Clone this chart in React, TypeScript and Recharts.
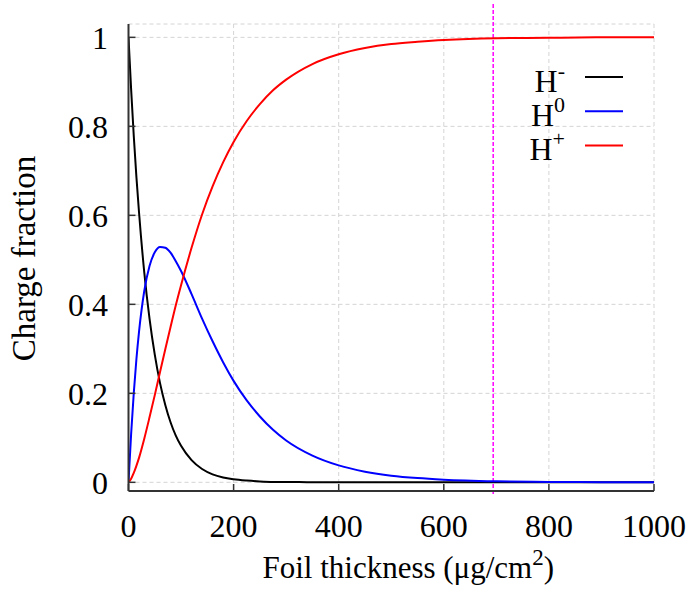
import React from "react";
import {
  LineChart,
  Line,
  XAxis,
  YAxis,
  CartesianGrid,
  ReferenceLine,
  Legend,
  Label,
} from "recharts";

// foil thickness in ug/cm^2
const thickness = [
  0, 5, 10, 15, 20, 30, 40, 50, 60, 70, 80, 90, 100, 120, 140, 160, 180, 200,
  225, 250, 275, 300, 350, 400, 450, 500, 550, 600, 700, 800, 900, 1000,
];
const hMinus = [
  1, 0.883, 0.779, 0.687, 0.607, 0.472, 0.368, 0.287, 0.223, 0.174, 0.135,
  0.105, 0.082, 0.05, 0.03, 0.018, 0.011, 0.007, 0.004, 0.002, 0.001, 0.001, 0,
  0, 0, 0, 0, 0, 0, 0, 0, 0,
];
const hZero = [
  0, 0.109, 0.2, 0.276, 0.338, 0.43, 0.486, 0.517, 0.529, 0.527, 0.516, 0.497,
  0.475, 0.423, 0.368, 0.317, 0.27, 0.228, 0.184, 0.148, 0.118, 0.094, 0.06,
  0.038, 0.024, 0.015, 0.0095, 0.006, 0.0024, 0.001, 0.0004, 0.0002,
];
const hPlus = [
  0, 0.008, 0.021, 0.037, 0.055, 0.098, 0.146, 0.196, 0.248, 0.299, 0.349,
  0.398, 0.443, 0.527, 0.602, 0.665, 0.719, 0.765, 0.812, 0.85, 0.881, 0.905,
  0.94, 0.962, 0.976, 0.985, 0.99, 0.994, 0.998, 0.999, 1, 1,
];

const seriesNames = ["H-", "H0", "H+"];
const xTicks = [0, 200, 400, 600, 800, 1000];
const yTicks = [0, 0.2, 0.4, 0.6, 0.8, 1];
const markerThickness = 694;

const data = thickness.map((t, i) => ({
  t,
  hm: hMinus[i],
  h0: hZero[i],
  hp: hPlus[i],
}));

const FONT = "Liberation Serif";
const serif = { fontFamily: FONT };
const FRAME = "#333";

const XTick = (props: any) => (
  <text
    x={props.x}
    y={props.y}
    dy="0.71em"
    textAnchor="middle"
    style={serif}
    fontSize={32}
    fill="#000"
  >
    {props.payload.value}
  </text>
);

const YTick = (props: any) => (
  <text
    x={props.x}
    y={props.y}
    dy="0.355em"
    textAnchor="end"
    style={serif}
    fontSize={32}
    fill="#000"
  >
    {props.payload.value}
  </text>
);

const xTitle = (props: any) => {
  const { viewBox } = props;
  const cx = viewBox.x + viewBox.width / 2 + 17;
  const y = viewBox.y + 87;
  return (
    <text x={cx} y={y} textAnchor="middle" style={serif} fontSize={31} fill="#000">
      Foil thickness (μg/cm
      <tspan fontSize={23} dy={-13}>2</tspan>
      <tspan dy={13}>)</tspan>
    </text>
  );
};

const yTitle = (props: any) => {
  const { viewBox } = props;
  const x = 35;
  const y = viewBox.y + viewBox.height / 2 + 1;
  return (
    <text
      x={x}
      y={y}
      textAnchor="middle"
      transform={`rotate(-90, ${x}, ${y})`}
      style={serif}
      fontSize={33}
      fill="#000"
    >
      Charge fraction
    </text>
  );
};

const renderLegend = (props: any) => {
  const entries = seriesNames
    .map((n) => props.payload.find((p: any) => p.value === n))
    .filter(Boolean);
  return (
    <svg width={140} height={130}>
      {entries.map((entry: any, i: number) => {
        const base = 42 + 34.2 * i;
        const name = String(entry.value);
        return (
          <g key={name}>
            <text x={65} y={base} textAnchor="end" style={serif} fontSize={32} fill="#000">
              {name.slice(0, 1)}
              <tspan fontSize={22} dy={-14}>
                {name.slice(1)}
              </tspan>
            </text>
            <line
              x1={85}
              x2={123}
              y1={base - 15}
              y2={base - 15}
              stroke={entry.color}
              strokeWidth={2}
            />
          </g>
        );
      })}
    </svg>
  );
};

export default function App() {
  return (
    <div style={{ position: "absolute", left: 0, top: 0 }}>
      <LineChart
        width={696}
        height={597}
        data={data}
        margin={{ top: 24, right: 42, bottom: 46, left: 68.5 }}
      >
        <CartesianGrid stroke="#d4d4d4" strokeDasharray="4 3" />
        <XAxis
          dataKey="t"
          type="number"
          domain={[0, 1000]}
          ticks={xTicks}
          height={60}
          tickSize={-7}
          tickMargin={30}
          tick={XTick}
          axisLine={{ stroke: FRAME, strokeWidth: 2 }}
          tickLine={{ stroke: FRAME, strokeWidth: 1.5 }}
          allowDataOverflow
        >
          <Label content={xTitle} />
        </XAxis>
        <XAxis
          xAxisId="top"
          orientation="top"
          dataKey="t"
          type="number"
          domain={[0, 1000]}
          ticks={xTicks}
          height={0}
          tickSize={-7}
          tick={false}
          axisLine={{ stroke: FRAME, strokeWidth: 2 }}
          tickLine={{ stroke: FRAME, strokeWidth: 1.5 }}
          allowDataOverflow
        />
        <YAxis
          type="number"
          domain={[-0.0195, 1.03]}
          ticks={yTicks}
          width={60}
          tickSize={-7}
          tickMargin={27.5}
          tick={YTick}
          axisLine={{ stroke: FRAME, strokeWidth: 2 }}
          tickLine={{ stroke: FRAME, strokeWidth: 1.5 }}
          allowDataOverflow
        >
          <Label content={yTitle} />
        </YAxis>
        <YAxis
          yAxisId="right"
          orientation="right"
          type="number"
          domain={[-0.0195, 1.03]}
          ticks={yTicks}
          width={0}
          tickSize={-7}
          tick={false}
          axisLine={{ stroke: FRAME, strokeWidth: 2 }}
          tickLine={{ stroke: FRAME, strokeWidth: 1.5 }}
          allowDataOverflow
        />
        <ReferenceLine
          segment={[
            { x: markerThickness, y: 1.075 },
            { x: markerThickness, y: -0.029 },
          ]}
          stroke="#ff00ff"
          strokeWidth={1.5}
          strokeDasharray="4 2"
          ifOverflow="visible"
        />
        <Line
          type="monotone"
          dataKey="hm"
          name={seriesNames[0]}
          stroke="#000"
          strokeWidth={2}
          dot={false}
          isAnimationActive={false}
        />
        <Line
          type="monotone"
          dataKey="h0"
          name={seriesNames[1]}
          stroke="#0000ff"
          strokeWidth={2}
          dot={false}
          isAnimationActive={false}
        />
        <Line
          type="monotone"
          dataKey="hp"
          name={seriesNames[2]}
          stroke="#ff0000"
          strokeWidth={2}
          dot={false}
          isAnimationActive={false}
        />
        <Legend
          layout="vertical"
          align="center"
          verticalAlign="middle"
          content={renderLegend}
          wrapperStyle={{ position: "absolute", left: 500, top: 50, width: 140, height: 130 }}
        />
      </LineChart>
    </div>
  );
}
